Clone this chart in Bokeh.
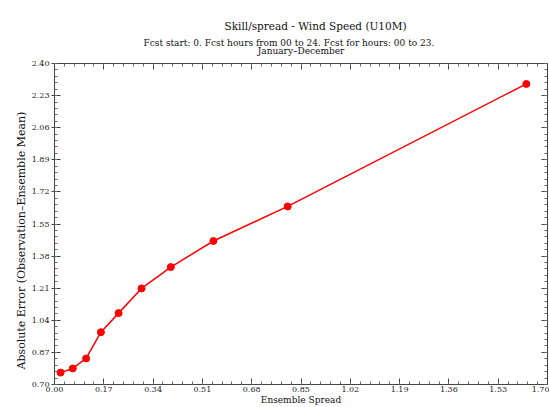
from bokeh.plotting import figure
from bokeh.models import FixedTicker, LinearAxis, Title, Range1d
from bokeh.embed import file_html
from bokeh.resources import INLINE

# data
spread = [0.021, 0.063, 0.109, 0.160, 0.221, 0.300, 0.401, 0.548, 0.804, 1.627]
abs_error = [0.763, 0.785, 0.838, 0.977, 1.078, 1.209, 1.322, 1.460, 1.643, 2.292]

x_ticks = [0.00, 0.17, 0.34, 0.51, 0.68, 0.85, 1.02, 1.19, 1.36, 1.53, 1.70]
y_ticks = [0.70, 0.87, 1.04, 1.21, 1.38, 1.55, 1.72, 1.89, 2.06, 2.23, 2.40]
x_minor = [round(i * 0.034, 3) for i in range(51)]
y_minor = [round(0.70 + i * 0.034, 3) for i in range(51)]

title_text = "Skill/spread - Wind Speed (U10M)"
sub1_text = "Fcst start:  0. Fcst hours from 00 to 24. Fcst for hours: 00 to 23."
sub2_text = "January\u2013December"
xlabel_text = "Ensemble Spread"
ylabel_text = "Absolute Error (Observation\u2013Ensemble Mean)"

FONT = "DejaVu Serif"

p = figure(width=549, height=407, output_backend="svg", toolbar_location=None,
           x_range=Range1d(0.0, 1.70), y_range=Range1d(0.70, 2.40),
           min_border_left=54, min_border_right=2, min_border_top=63, min_border_bottom=19,
           x_axis_location=None, y_axis_location=None, title=None)
p.xgrid.visible = False
p.ygrid.visible = False
p.outline_line_color = "#444444"
p.background_fill_color = "white"
p.border_fill_color = "white"


def style_axis(ax, ticks, minor, labels, tick_out):
    ax.ticker = FixedTicker(ticks=ticks, minor_ticks=minor)
    ax.axis_line_color = "#444444"
    ax.major_tick_line_color = "#444444"
    ax.minor_tick_line_color = "#666666"
    ax.major_tick_in = 6
    ax.major_tick_out = tick_out
    ax.minor_tick_in = 3
    ax.minor_tick_out = 0
    if labels:
        ax.major_label_text_font = FONT
        ax.major_label_text_font_size = "8px"
        ax.major_label_text_color = "#222222"
        ax.major_label_overrides = {t: "%.2f" % t for t in ticks}
        ax.major_label_standoff = 2
    else:
        ax.major_label_text_font_size = "0px"
        ax.major_label_standoff = 0


bottom = LinearAxis(axis_label=xlabel_text, axis_label_text_font=FONT,
                    axis_label_text_font_size="9px", axis_label_text_font_style="normal",
                    axis_label_standoff=0, axis_label_text_color="#111111")
style_axis(bottom, x_ticks, x_minor, True, 0)
p.add_layout(bottom, "below")
left = LinearAxis()
style_axis(left, y_ticks, y_minor, True, 3)
p.add_layout(left, "left")
# top axis carries the period line ("January-December") as its label
top = LinearAxis(axis_label=sub2_text, axis_label_text_font=FONT,
                 axis_label_text_font_size="9px", axis_label_text_font_style="normal",
                 axis_label_standoff=8, axis_label_text_color="#111111")
style_axis(top, x_ticks, x_minor, False, 0)
p.add_layout(top, "above")
right = LinearAxis()
style_axis(right, y_ticks, y_minor, False, 0)
p.add_layout(right, "right")

p.line(spread, abs_error, line_color="#ff0000", line_width=1.5)
p.scatter(spread, abs_error, marker="circle", size=7, fill_color="#ff0000", line_color="#ff0000")

# titles stacked above the top axis (first added = closest to frame)
p.add_layout(Title(text=sub1_text, align="left", offset=89, text_font=FONT,
                   text_font_size="9px", text_font_style="normal", standoff=-10,
                   text_color="#111111"), "above")
p.add_layout(Title(text=title_text, align="left", offset=170, text_font=FONT,
                   text_font_size="10.5px", text_font_style="normal", standoff=18,
                   text_color="#111111"), "above")

# y axis label as a rotated title on the left side
p.add_layout(Title(text=ylabel_text, align="left", offset=15, text_font=FONT,
                   text_font_size="11px", text_font_style="normal", standoff=2,
                   text_color="#111111"), "left")

open("out.html", "w").write(file_html(p, INLINE))
